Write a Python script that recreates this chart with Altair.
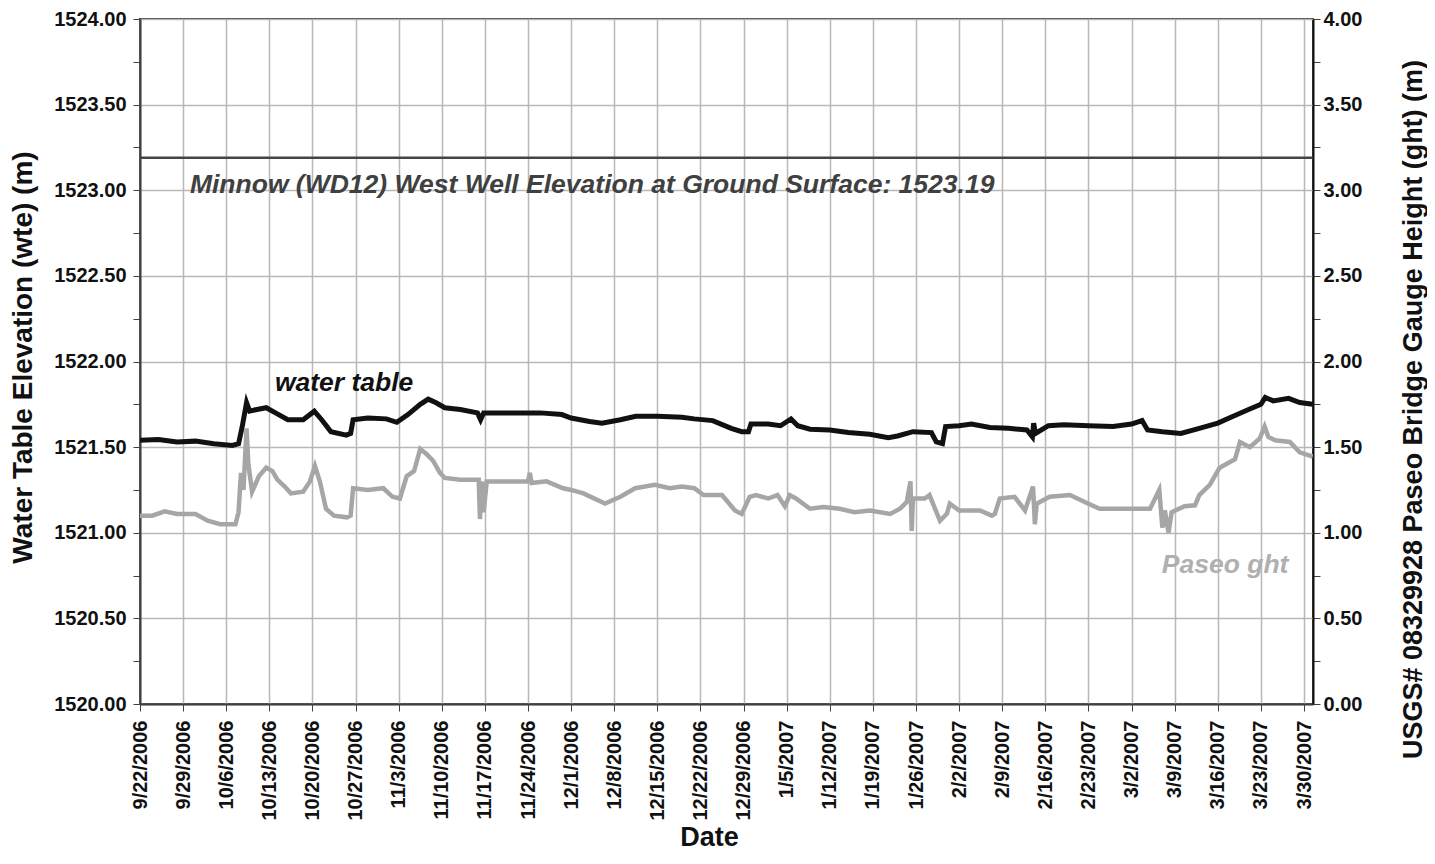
import altair as alt
import pandas as pd

START = pd.Timestamp("2006-09-22")

# Water table elevation (left axis), day offset from 9/22/2006
wte_day = [0, 3, 6, 9, 12, 15, 16.0, 16.6, 17.3, 17.8, 19, 20.5, 22, 24, 26.5, 28.3, 29.5, 31,
           33.5, 34.2, 34.6, 37, 40, 41.7, 43.5, 45.5, 46.8, 48, 49.5, 52, 54.8, 55.3, 55.8, 60,
           65, 68.5, 70, 73, 75, 78, 80.5, 84, 88, 90, 93, 96, 97.7, 98.8, 99.2, 102, 104, 105.7,
           106.8, 108.8, 112, 115, 118.5, 121.5, 123, 125.5, 128.5, 129.3, 130.3, 130.8, 133, 135,
           138, 141, 144, 144.9, 145.1, 145.4, 147.5, 150, 154, 158, 161, 162.7, 163.6, 166, 169,
           172, 175, 177.5, 180, 182, 182.7, 184, 186.5, 188.3, 190.4]
wte_val = [1521.54, 1521.545, 1521.53, 1521.535, 1521.52, 1521.51, 1521.52, 1521.62, 1521.76,
           1521.71, 1521.72, 1521.73, 1521.70, 1521.66, 1521.66, 1521.71, 1521.66, 1521.59,
           1521.57, 1521.58, 1521.66, 1521.67, 1521.665, 1521.645, 1521.69, 1521.75, 1521.78,
           1521.76, 1521.73, 1521.72, 1521.70, 1521.66, 1521.70, 1521.70, 1521.70, 1521.69,
           1521.67, 1521.65, 1521.64, 1521.66, 1521.68, 1521.68, 1521.675, 1521.665, 1521.655,
           1521.61, 1521.59, 1521.59, 1521.635, 1521.635, 1521.625, 1521.665, 1521.625, 1521.605,
           1521.60, 1521.585, 1521.575, 1521.555, 1521.565, 1521.59, 1521.585, 1521.53, 1521.52,
           1521.62, 1521.625, 1521.635, 1521.615, 1521.61, 1521.60, 1521.56, 1521.64, 1521.58,
           1521.625, 1521.63, 1521.625, 1521.62, 1521.635, 1521.655, 1521.60, 1521.59, 1521.58,
           1521.61, 1521.64, 1521.68, 1521.72, 1521.75, 1521.79, 1521.77, 1521.785, 1521.76,
           1521.75]

# Paseo gauge height (right axis)
ght_day = [0, 2, 4, 6, 9, 11, 13, 15.5, 16.0, 16.4, 16.8, 17.3, 17.6, 18.2, 19.3, 20.5, 21.5,
           22.3, 23.5, 24.5, 26.5, 27.6, 28.4, 29.2, 30.2, 31.5, 33.6, 34.2, 34.6, 37, 39.5, 41,
           42.2, 43.3, 44.5, 45.5, 46.5, 47.6, 48.7, 49.5, 52, 55.0, 55.2, 55.5, 55.8, 56.3, 60,
           63, 63.3, 63.6, 66, 68.7, 70, 72, 75.5, 78, 80.4, 83.6, 86, 88, 90, 91.5, 94.5, 96.6,
           97.7, 99, 100, 102, 103.5, 104.7, 105.5, 106.5, 108.8, 111, 113.6, 116, 118.5, 121.8,
           123.4, 124.5, 125.1, 125.3, 125.5, 127.4, 128.2, 129.2, 129.9, 131, 131.5, 133, 136.4,
           138.3, 138.8, 139.6, 142, 143.7, 145.0, 145.3, 145.6, 147.7, 151, 153.4, 155.8, 160.7,
           164, 165.5, 166.0, 166.4, 167, 167.5, 169.6, 171.3, 172, 173.7, 175.3, 177.8, 178.6,
           180.2, 181.8, 182.6, 183.2, 184.3, 186.7, 188.3, 190.4]
ght_val = [1.10, 1.10, 1.125, 1.11, 1.11, 1.07, 1.05, 1.05, 1.12, 1.35, 1.25, 1.61, 1.40, 1.24,
           1.33, 1.38, 1.36, 1.31, 1.27, 1.23, 1.24, 1.30, 1.39, 1.30, 1.14, 1.10, 1.09, 1.10,
           1.26, 1.25, 1.26, 1.21, 1.20, 1.33, 1.36, 1.49, 1.46, 1.42, 1.35, 1.32, 1.31, 1.31,
           1.08, 1.30, 1.12, 1.30, 1.30, 1.30, 1.35, 1.29, 1.30, 1.26, 1.25, 1.23, 1.17, 1.21,
           1.26, 1.28, 1.26, 1.27, 1.26, 1.22, 1.22, 1.13, 1.11, 1.21, 1.22, 1.20, 1.22, 1.155,
           1.22, 1.20, 1.14, 1.15, 1.14, 1.12, 1.13, 1.11, 1.14, 1.18, 1.30, 1.01, 1.20, 1.20,
           1.22, 1.13, 1.07, 1.11, 1.17, 1.13, 1.13, 1.10, 1.11, 1.20, 1.21, 1.13, 1.27, 1.05,
           1.17, 1.21, 1.22, 1.18, 1.14, 1.14, 1.14, 1.25, 1.03, 1.13, 1.00, 1.12, 1.155, 1.16,
           1.22, 1.28, 1.38, 1.43, 1.53, 1.50, 1.55, 1.62, 1.56, 1.54, 1.53, 1.47, 1.445]

ground_elev = 1523.19
ground_label = "Minnow (WD12) West Well Elevation at Ground Surface: 1523.19"
wte_label = "water table"
ght_label = "Paseo ght"

tick_dates = pd.date_range("2006-09-22", "2007-03-30", freq="7D")


def to_iso(days):
    return [(START + pd.Timedelta(days=d)).strftime("%Y-%m-%dT%H:%M:%S") for d in days]


wte_df = pd.DataFrame({"date": to_iso(wte_day), "wte": wte_val})
ght_df = pd.DataFrame({"date": to_iso(ght_day), "ght": ght_val})
ref_df = pd.DataFrame({"date": to_iso([0, 190.4]), "wte": [ground_elev, ground_elev]})
txt_df = pd.DataFrame({"date": to_iso([8.1, 21.9]), "wte": [1523.03, 1521.875],
                       "label": [ground_label, wte_label], "color": ["#404040", "#111111"]})
txt2_df = pd.DataFrame({"date": to_iso([165.9]), "ght": [0.81], "label": [ght_label]})

FONT = "Liberation Sans"
GRID = "#b8b8b8"
AX = "#404040"

x_domain = [alt.DateTime(year=2006, month=9, date=22),
            alt.DateTime(year=2007, month=3, date=31, hours=11)]
x_values = [alt.DateTime(year=t.year, month=t.month, date=t.day) for t in tick_dates]

x_axis = alt.Axis(
    values=x_values, format="%-m/%-d/%Y", labelAngle=270, labelAlign="right",
    labelBaseline="middle", labelFontSize=20, labelFontWeight="bold", labelFont=FONT,
    labelColor="#111", labelPadding=9, tickSize=7, tickColor=AX, domainColor=AX,
    domainWidth=2, grid=True, gridColor=GRID, gridWidth=1.5, title="Date",
    titleFont=FONT, titleFontSize=27, titleFontWeight="bold", titleColor="#111",
    titleX=569, titleY=133, titleBaseline="middle", titleAlign="center",
    labelOverlap=False, labelFlush=False)
x_enc = alt.X("date:T", scale=alt.Scale(domain=x_domain, nice=False), axis=x_axis)

lab_expr = "datum.value % 0.5 === 0 ? format(datum.value, '.2f') : ''"

left_axis = alt.Axis(
    orient="left", values=[1520 + 0.25 * i for i in range(17)], labelExpr=lab_expr,
    labelFontSize=20, labelFontWeight="bold", labelFont=FONT, labelColor="#111",
    labelPadding=7, tickSize=7, tickColor=AX, domainColor=AX, domainWidth=2,
    grid=True, gridColor=GRID, gridWidth=1.5,
    gridOpacity={"condition": {"test": "datum.value % 0.5 !== 0", "value": 0}, "value": 1},
    title="Water Table Elevation (wte) (m)", titleFont=FONT, titleFontSize=28,
    titleFontWeight="bold", titleColor="#111", titleAngle=270, titleX=-117, titleY=338,
    titleBaseline="middle", titleAlign="center", labelOverlap=False, labelFlush=False)
y_left = alt.Y("wte:Q", scale=alt.Scale(domain=[1520, 1524], nice=False, zero=False), axis=left_axis)

right_axis = alt.Axis(
    orient="right", values=[0.25 * i for i in range(17)], labelExpr=lab_expr,
    labelFontSize=20, labelFontWeight="bold", labelFont=FONT, labelColor="#111",
    labelPadding=3, tickSize=7, tickColor=AX, domainColor="#111", domainWidth=2,
    grid=False, title="USGS# 08329928 Paseo Bridge Gauge Height (ght) (m)",
    titleFont=FONT, titleFontSize=27, titleFontWeight="bold", titleColor="#111",
    titleAngle=270, titleX=100, titleY=390, titleBaseline="middle", titleAlign="center",
    labelOverlap=False, labelFlush=False)
y_right = alt.Y("ght:Q", scale=alt.Scale(domain=[0, 4], nice=False), axis=right_axis)

wte_line = alt.Chart(wte_df).mark_line(color="#111111", strokeWidth=5, clip=True).encode(
    x=x_enc, y=y_left)
ref_rule = alt.Chart(ref_df).mark_line(color="#454545", strokeWidth=2.5).encode(
    x=x_enc, y=y_left)
texts = alt.Chart(txt_df).mark_text(
    font=FONT, fontSize=26.5, fontWeight="bold", fontStyle="italic", align="left",
    baseline="middle").encode(x=x_enc, y=y_left, text="label:N",
                             color=alt.Color("color:N", scale=None))

ght_line = alt.Chart(ght_df).mark_line(color="#a6a6a6", strokeWidth=4.5, clip=True).encode(
    x=x_enc, y=y_right)
ght_text = alt.Chart(txt2_df).mark_text(
    font=FONT, fontSize=26.5, fontWeight="bold", fontStyle="italic", align="left",
    baseline="middle", color="#b0b0b0").encode(x=x_enc, y=y_right, text="label:N")

left = alt.layer(ref_rule, texts, wte_line)
right = alt.layer(ght_line, ght_text)

chart = alt.layer(left, right).resolve_scale(y="independent").properties(
    width=1173, height=685,
    autosize=alt.AutoSizeParams(type="none"),
    padding={"left": 132, "top": 11, "right": 114, "bottom": 148},
    background="white",
).configure_view(stroke=AX, strokeWidth=2)

chart.save("out.html", embed_options={"renderer": "svg", "actions": False})
